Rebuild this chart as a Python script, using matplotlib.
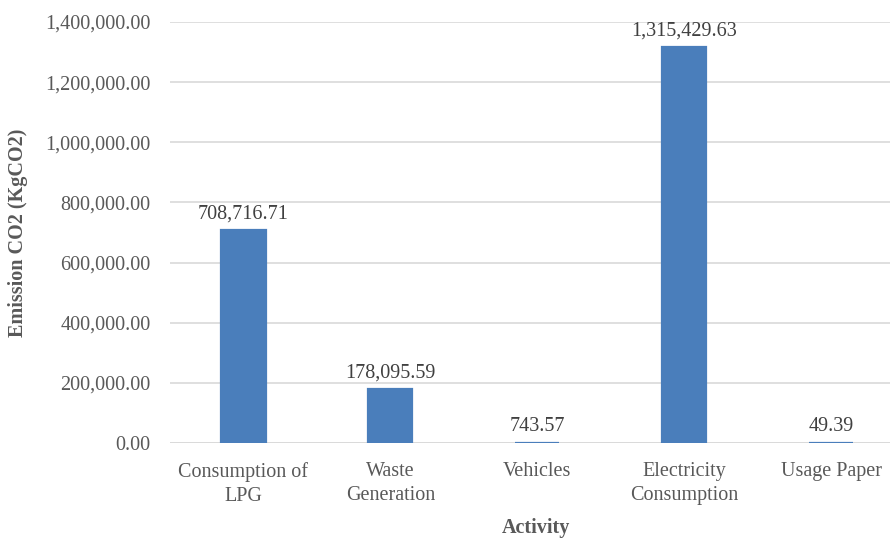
import matplotlib
matplotlib.use("Agg")
import matplotlib.pyplot as plt
from matplotlib.ticker import FuncFormatter

# Data
activities = ["Consumption of\nLPG", "Waste\nGeneration", "Vehicles",
              "Electricity\nConsumption", "Usage Paper"]
emissions = [708716.71, 178095.59, 743.57, 1315429.63, 49.39]
y_ticks = [0, 200000, 400000, 600000, 800000, 1000000, 1200000, 1400000]

plt.rcParams['font.family'] = ['Liberation Serif', 'DejaVu Serif']

fig = plt.figure(figsize=(8.9, 5.38), dpi=100)
ax = fig.add_axes([170 / 890, 1 - 443 / 538, 720 / 890, (443 - 22) / 538])

x = list(range(len(activities)))
bars = ax.bar(x, emissions, width=0.30, color='#4a7ebb', edgecolor='#4a7ebb',
              linewidth=1.6, zorder=3)

for b, v in zip(bars, emissions):
    ax.text(b.get_x() + b.get_width() / 2, v + 22000, f"{v:,.2f}",
            ha='center', va='bottom', fontsize=14.5, color='#404040')

ax.set_xlim(-0.5, 4.4)
ax.set_ylim(0, 1400000)
ax.set_yticks(y_ticks)
ax.yaxis.set_major_formatter(FuncFormatter(lambda v, p: f"{v:,.2f}"))
ax.set_xticks(x)
ax.set_xticklabels(activities, fontsize=14.5, color='#595959', linespacing=1.3)
ax.tick_params(axis='y', labelsize=14.5, labelcolor='#595959', length=0, pad=14)
ax.tick_params(axis='x', length=0, pad=14)
ax.grid(axis='y', color='#d9d9d9', linewidth=1.2, zorder=0)
for s in ax.spines.values():
    s.set_visible(False)
ax.axhline(0, color='#d9d9d9', linewidth=1.2, zorder=2)

ax.set_ylabel("Emission CO2 (KgCO2)", fontsize=14.5, fontweight='bold', color='#595959')
ax.yaxis.set_label_coords((28 - 170) / 720, 0.5)
ax.set_xlabel("Activity", fontsize=14.5, fontweight='bold', color='#595959')
ax.xaxis.set_label_coords((536 - 170) / 720, -(518 - 443) / 421)

fig.savefig("out.png", dpi=100)
